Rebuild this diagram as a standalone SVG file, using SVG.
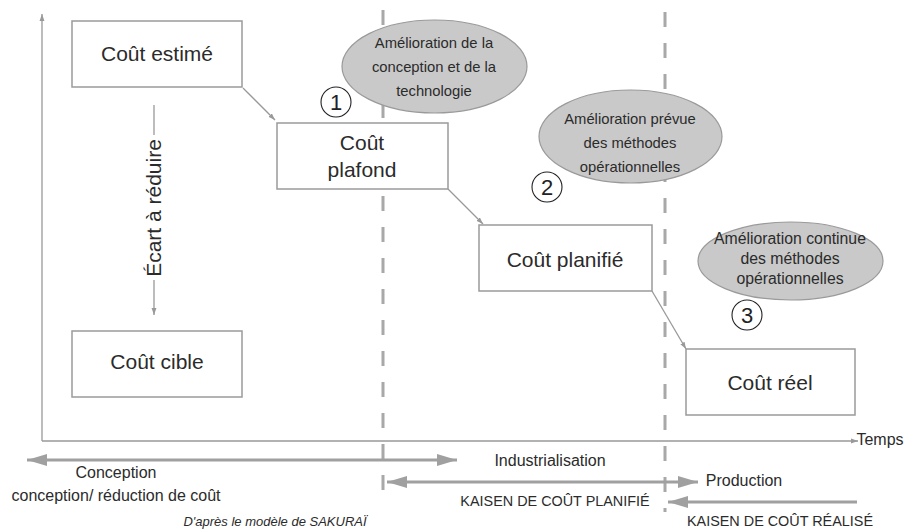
<svg xmlns="http://www.w3.org/2000/svg" width="916" height="529" viewBox="0 0 916 529">
<style>
.box{fill:#fff;stroke:#9a9a9a;stroke-width:1.5}
.ell{fill:#c9c9c9;stroke:#9a9a9a;stroke-width:1.2}
.t{font-family:"Liberation Sans",Arial,sans-serif;fill:#2b2b2b;text-anchor:middle}
.big{font-size:21px}
.sm{font-size:14.8px}
.sm3{font-size:15.8px}
.lab{font-size:16px}
.kai{font-size:14.4px}
.dash{stroke:#a8a8a8;stroke-width:3;stroke-dasharray:15 16;fill:none}
.thin{stroke:#999;stroke-width:1.3;fill:none}
.thick{stroke:#a0a0a0;stroke-width:3;fill:none}
.num{fill:none;stroke:#222;stroke-width:1.1}
.numt{font-family:"Liberation Sans",Arial,sans-serif;font-size:22px;fill:#222;text-anchor:middle}
</style>
<defs>
<marker id="ah" viewBox="0 0 10 10" refX="10" refY="5" markerWidth="7" markerHeight="7" markerUnits="userSpaceOnUse" orient="auto"><path d="M0,1.5 L10,5 L0,8.5 Z" fill="#999"/></marker>
<marker id="big" viewBox="0 0 10 10" refX="10" refY="5" markerWidth="20" markerHeight="12" markerUnits="userSpaceOnUse" orient="auto-start-reverse" preserveAspectRatio="none"><path d="M0,0 L10,5 L0,10 Z" fill="#a0a0a0"/></marker>
</defs>

<g id="phases">
<line class="dash" x1="383" y1="10" x2="383" y2="492"/>
<line class="dash" x1="665" y1="12" x2="665" y2="512"/>
</g>

<g id="axes">
<line class="thin" x1="42" y1="441" x2="42" y2="14" marker-end="url(#ah)"/>
<line class="thin" x1="42" y1="441" x2="858" y2="441" marker-end="url(#ah)"/>
<text class="t lab" x="880" y="445">Temps</text>
</g>

<g id="connectors">
<line class="thin" x1="243" y1="88" x2="275" y2="120" marker-end="url(#ah)"/>
<line class="thin" x1="448" y1="189" x2="483" y2="224" marker-end="url(#ah)"/>
<line class="thin" x1="652" y1="291" x2="686" y2="349" marker-end="url(#ah)"/>
<line class="thin" x1="154" y1="105" x2="154" y2="135"/>
<line class="thin" x1="154" y1="280" x2="154" y2="315" marker-end="url(#ah)"/>
</g>

<g id="ecart">
<text class="t big" transform="translate(161,208) rotate(-90)">Écart à réduire</text>
</g>

<g id="cout-estime">
<rect class="box" x="72" y="21" width="170" height="66"/>
<text class="t big" x="157" y="61">Coût estimé</text>
</g>

<g id="cout-cible">
<rect class="box" x="72" y="331" width="170" height="66"/>
<text class="t big" x="157" y="369">Coût cible</text>
</g>

<g id="cout-plafond">
<rect class="box" x="277" y="123" width="171" height="66"/>
<text class="t big" x="362" y="150">Coût</text>
<text class="t big" x="362" y="177">plafond</text>
</g>

<g id="cout-planifie">
<rect class="box" x="479" y="225" width="173" height="66"/>
<text class="t big" x="565" y="267">Coût planifié</text>
</g>

<g id="cout-reel">
<rect class="box" x="686" y="349" width="169" height="66"/>
<text class="t big" x="770" y="390">Coût réel</text>
</g>

<g id="amelioration-1">
<ellipse class="ell" cx="434.5" cy="66.5" rx="92.5" ry="46.5"/>
<text class="t sm" x="434" y="48">Amélioration de la</text>
<text class="t sm" x="434" y="72">conception et de la</text>
<text class="t sm" x="434" y="96">technologie</text>
</g>

<g id="amelioration-2">
<ellipse class="ell" cx="630.5" cy="136.5" rx="91.5" ry="46.5"/>
<text class="t sm" x="630" y="124">Amélioration prévue</text>
<text class="t sm" x="630" y="148">des méthodes</text>
<text class="t sm" x="630" y="172">opérationnelles</text>
</g>

<g id="amelioration-3">
<ellipse class="ell" cx="790.5" cy="261" rx="92.5" ry="39"/>
<text class="t sm3" x="790" y="244">Amélioration continue</text>
<text class="t sm3" x="790" y="264">des méthodes</text>
<text class="t sm3" x="790" y="284">opérationnelles</text>
</g>

<g id="num-1"><circle class="num" cx="336" cy="102" r="15"/><text class="numt" x="336" y="110">1</text></g>
<g id="num-2"><circle class="num" cx="547" cy="187" r="15"/><text class="numt" x="547" y="195">2</text></g>
<g id="num-3"><circle class="num" cx="747" cy="315" r="15"/><text class="numt" x="747" y="323">3</text></g>

<g id="phase-arrows">
<line class="thick" x1="27" y1="460" x2="457" y2="460" marker-start="url(#big)" marker-end="url(#big)"/>
<line class="thick" x1="387" y1="482" x2="698" y2="482" marker-start="url(#big)" marker-end="url(#big)"/>
<line class="thick" x1="857" y1="502" x2="668" y2="502" marker-end="url(#big)"/>
</g>

<g id="phase-labels">
<text class="t lab" x="116" y="478">Conception</text>
<text class="t lab" x="116" y="501">conception/ réduction de coût</text>
<text class="t lab" x="550" y="466">Industrialisation</text>
<text class="t lab" x="744" y="486">Production</text>
<text class="t kai" x="555" y="506">KAISEN DE COÛT PLANIFIÉ</text>
<text class="t kai" x="780" y="526">KAISEN DE COÛT RÉALISÉ</text>
<text class="t" style="font-size:13px;font-style:italic" x="275" y="526">D'après le modèle de SAKURAÏ</text>
</g>
</svg>
